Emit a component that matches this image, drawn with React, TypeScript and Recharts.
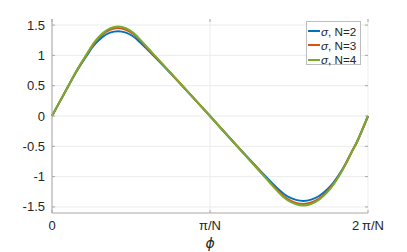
import React from "react";
import { LineChart, Line, XAxis, YAxis, CartesianGrid, Label } from "recharts";

// phi in units of pi/N (0 .. 2)
const phi = [
  0, 0.051, 0.101, 0.158, 0.215, 0.266, 0.316, 0.367, 0.418, 0.468, 0.513, 0.548, 0.601, 0.639, 0.728, 0.816, 0.911, 1.0,
  1.085, 1.17, 1.255, 1.34, 1.427, 1.47, 1.51, 1.55, 1.59, 1.64, 1.69, 1.74, 1.78, 1.815, 1.86, 1.9, 1.93, 1.965, 2.0,
];
const sigmaN2 = [
  0, 0.245, 0.482, 0.748, 0.977, 1.168, 1.297, 1.375, 1.4, 1.376, 1.315, 1.239, 1.104, 1.005, 0.765, 0.522, 0.254, 0,
  -0.247, -0.49, -0.73, -0.964, -1.195, -1.29, -1.351, -1.388, -1.4, -1.38, -1.32, -1.217, -1.102, -0.976, -0.779, -0.575, -0.428, -0.22, 0,
];
const sigmaN3 = [
  0, 0.245, 0.484, 0.755, 0.992, 1.195, 1.336, 1.422, 1.45, 1.423, 1.356, 1.272, 1.127, 1.022, 0.772, 0.524, 0.254, 0,
  -0.247, -0.492, -0.737, -0.979, -1.224, -1.328, -1.396, -1.437, -1.45, -1.427, -1.361, -1.248, -1.125, -0.991, -0.786, -0.578, -0.429, -0.22, 0,
];
const sigmaN4 = [
  0, 0.245, 0.485, 0.758, 1.0, 1.209, 1.355, 1.445, 1.475, 1.447, 1.376, 1.289, 1.138, 1.03, 0.776, 0.525, 0.254, 0,
  -0.247, -0.493, -0.74, -0.986, -1.239, -1.347, -1.418, -1.461, -1.475, -1.451, -1.381, -1.264, -1.136, -0.999, -0.79, -0.58, -0.43, -0.22, 0,
];

const xTicks = [0, 1, 2];
const xTickLabels = ["0", "\u03c0/N", "2\u2009\u03c0/N"];
const yTicks = [-1.5, -1, -0.5, 0, 0.5, 1, 1.5];
const yTickLabels = ["-1.5", "-1", "-0.5", "0", "0.5", "1", "1.5"];
const xAxisTitle = "\u03d5";
const seriesKeys = ["n2", "n3", "n4"];
const seriesNames = ["N=2", "N=3", "N=4"];
const seriesColors = ["#0072BD", "#D95319", "#77AC30"];

const data = phi.map((p, i) => ({ phi: p, n2: sigmaN2[i], n3: sigmaN3[i], n4: sigmaN4[i] }));

const W = 407;
const H = 252;
const M = { top: 19, right: 39, left: 0, bottom: 0 };
const YW = 52;
const XH = 39;
const PL = YW;
const PR = W - M.right;
const PT = M.top;
const PB = H - XH;

const FONT = "'Liberation Sans', Arial, Helvetica, sans-serif";
const TXT = "#262626";
const AX = "#a8a8a8";

const YTick = (props: any) => {
  const { x, y, payload } = props;
  const label = yTickLabels[yTicks.indexOf(payload.value)] ?? String(payload.value);
  return (
    <g>
      <text x={x} y={y} dy="0.35em" textAnchor="end" fontSize={13} fontFamily={FONT} fill={TXT}>
        {label}
      </text>
      <line x1={PL} x2={PL + 3} y1={y} y2={y} stroke={AX} strokeWidth={1} />
      <line x1={PR - 3} x2={PR} y1={y} y2={y} stroke={AX} strokeWidth={1} />
    </g>
  );
};

const XTick = (props: any) => {
  const { x, y, payload } = props;
  const label = xTickLabels[xTicks.indexOf(payload.value)] ?? String(payload.value);
  return (
    <g>
      <text x={x} y={y} dy="0.75em" textAnchor="middle" fontSize={13} fontFamily={FONT} fill={TXT}>
        {label}
      </text>
      <line x1={x} x2={x} y1={PB} y2={PB - 3} stroke={AX} strokeWidth={1} />
      <line x1={x} x2={x} y1={PT} y2={PT + 3} stroke={AX} strokeWidth={1} />
    </g>
  );
};

export default function App() {
  return (
    <div style={{ position: "absolute", left: 0, top: 0, width: W, height: H, background: "#fff" }}>
      <LineChart width={W} height={H} data={data} margin={M}>
        <CartesianGrid stroke="#ebebeb" strokeWidth={1} horizontalValues={yTicks} verticalValues={xTicks} />
        <XAxis
          dataKey="phi"
          type="number"
          domain={[0, 2]}
          ticks={xTicks}
          interval={0}
          height={XH}
          tickSize={0}
          tickMargin={7}
          tickLine={false}
          axisLine={{ stroke: AX }}
          tick={<XTick />}
        >
          <Label
            value={xAxisTitle}
            position="insideBottom"
            offset={4}
            style={{ fontSize: 14, fontStyle: "italic", fontFamily: "'DejaVu Sans', sans-serif", fill: TXT }}
          />
        </XAxis>
        <XAxis
          xAxisId="top"
          orientation="top"
          type="number"
          domain={[0, 2]}
          height={0}
          tick={false}
          tickLine={false}
          axisLine={{ stroke: AX }}
        />
        <YAxis
          type="number"
          domain={[-1.6, 1.6]}
          ticks={yTicks}
          interval={0}
          width={YW}
          tickSize={0}
          tickMargin={7}
          tickLine={false}
          axisLine={{ stroke: AX }}
          tick={<YTick />}
          allowDataOverflow
        />
        <YAxis
          yAxisId="right"
          orientation="right"
          type="number"
          domain={[-1.6, 1.6]}
          width={0}
          tick={false}
          tickLine={false}
          axisLine={{ stroke: AX }}
        />
        {seriesKeys.map((k, i) => (
          <Line
            key={k}
            dataKey={k}
            type="monotone"
            stroke={seriesColors[i]}
            strokeWidth={2}
            dot={false}
            isAnimationActive={false}
          />
        ))}
      </LineChart>
      <div
        style={{
          position: "absolute",
          left: 306,
          top: 21,
          width: 55,
          height: 44,
          border: "1px solid #bdbdbd",
          background: "#fff",
          fontFamily: FONT,
          fontSize: 11.7,
          color: TXT,
          paddingTop: 2,
          boxSizing: "border-box",
        }}
      >
        {seriesNames.map((n, i) => (
          <div key={n} style={{ height: 14.3, display: "flex", alignItems: "center", whiteSpace: "nowrap" }}>
            <span style={{ display: "inline-block", width: 12, height: 2, background: seriesColors[i], marginLeft: 1, marginRight: 1 }} />
            <span>
              <i>{"\u03c3"}</i>, {n}
            </span>
          </div>
        ))}
      </div>
    </div>
  );
}
